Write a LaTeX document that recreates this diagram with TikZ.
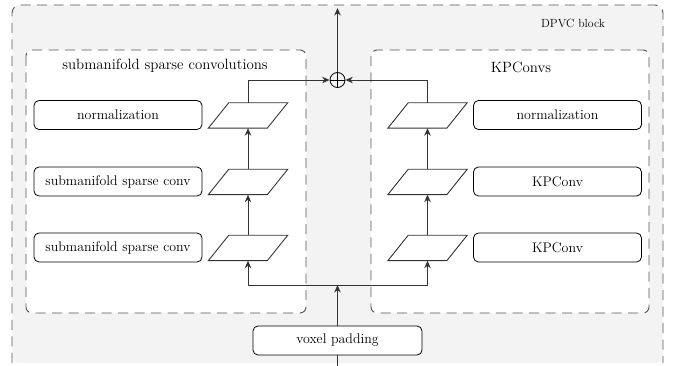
\documentclass[tikz,border=0pt]{standalone}
\usepackage{fontspec}
\usetikzlibrary{arrows.meta,calc}
\definecolor{bgfill}{HTML}{F3F3F3}
\definecolor{dashcol}{HTML}{555555}
\definecolor{linecol}{HTML}{333333}
\begin{document}
\begin{tikzpicture}[x=1pt,y=-1pt,
  dashbox/.style={draw=dashcol,line width=0.9pt,dash pattern=on 10pt off 6.5pt},
  textbox/.style={draw=black,line width=0.8pt,rounded corners=5pt,fill=white,
    minimum width=168pt,minimum height=29pt,inner sep=0pt,
    font=\fontsize{13.9}{16}\selectfont},
  parabox/.style={minimum width=79pt,minimum height=25pt,inner sep=0pt},
  paraline/.style={draw=linecol,line width=0.9pt,fill=white},
  arr/.style={draw=linecol,line width=0.9pt,-{Stealth[length=7.5pt,width=6.5pt]}},
  plainline/.style={draw=linecol,line width=0.9pt},
  titlelabel/.style={font=\fontsize{14.9}{17}\selectfont},
  blocklabel/.style={font=\fontsize{11.8}{14}\selectfont}
]
\useasboundingbox (0,0) rectangle (681,366);
% outer block
\fill[bgfill,rounded corners=8pt] (12,5) rectangle (663,363);
\draw[dashbox,rounded corners=8pt] (12,363) -- (12,5) -- (663,5) -- (663,363);
\node[blocklabel] (dpvc) at (573,23) {DPVC block};
% inner groups
\draw[dashbox,fill=white,rounded corners=6pt] (26,50) rectangle (306,313);
\draw[dashbox,fill=white,rounded corners=6pt] (371,50) rectangle (649,313);
\node[titlelabel] (ltitle) at (165,66) {submanifold sparse convolutions};
\node[titlelabel] (rtitle) at (521,67) {KPConvs};
% left column
\node[textbox] (lb1) at (118,115) {normalization};
\node[textbox] (lb2) at (118,181.5) {submanifold sparse conv};
\node[textbox] (lb3) at (118,247.5) {submanifold sparse conv};
\node[parabox] (pl1) at (248,115.5) {};
\node[parabox] (pl2) at (248,182) {};
\node[parabox] (pl3) at (248,248) {};
% right column
\node[textbox] (rb1) at (557.5,115) {normalization};
\node[textbox] (rb2) at (557.5,181.5) {KPConv};
\node[textbox] (rb3) at (557.5,247.5) {KPConv};
\node[parabox] (pr1) at (427.5,115.5) {};
\node[parabox] (pr2) at (427.5,182) {};
\node[parabox] (pr3) at (427.5,248) {};
\foreach \p in {pl1,pl2,pl3,pr1,pr2,pr3}{
  \draw[paraline] (\p.south west) -- ++(59,0) -- (\p.north east) -- ++(-59,0) -- cycle;
}
% bottom input
\node[textbox,minimum width=169pt] (vox) at (337.5,340.5) {voxel padding};
\coordinate (split) at (337.5,285);
\coordinate (inbot) at (337.5,366);
\coordinate (outtop) at (337.5,8);
\node[draw=black,line width=0.8pt,circle,minimum size=15pt,inner sep=0pt,
  path picture={\draw[line width=0.7pt] (path picture bounding box.north) -- (path picture bounding box.south)
    (path picture bounding box.west) -- (path picture bounding box.east);}] (oplus) at (337.5,80) {};
% connectors
\draw[plainline] (vox.south) -- (inbot);
\draw[arr] (vox.north) -- (split);
\draw[arr] (split) -| (pl3.south);
\draw[arr] (split) -| (pr3.south);
\draw[arr] (pl3.north) -- (pl2.south);
\draw[arr] (pl2.north) -- (pl1.south);
\draw[arr] (pr3.north) -- (pr2.south);
\draw[arr] (pr2.north) -- (pr1.south);
\draw[arr] (pl1.north) |- (oplus.west);
\draw[arr] (pr1.north) |- (oplus.east);
\draw[arr] (oplus.north) -- (outtop);
\end{tikzpicture}
\end{document}
